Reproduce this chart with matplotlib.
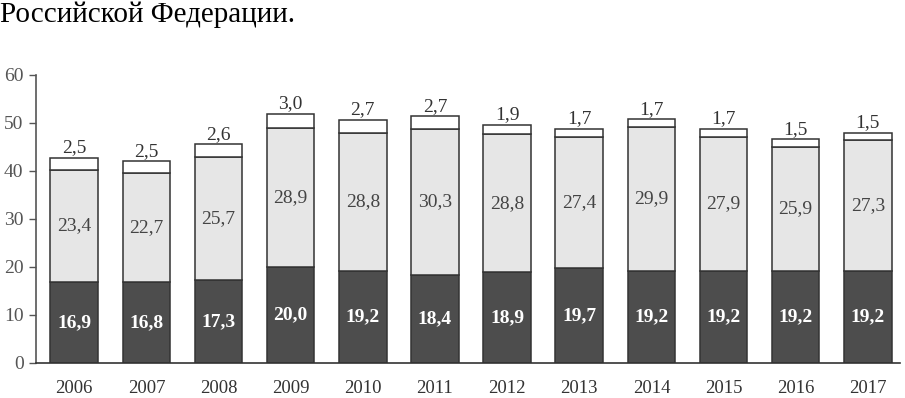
import matplotlib
matplotlib.use("Agg")
import matplotlib.pyplot as plt
import numpy as np

years = ["2006", "2007", "2008", "2009", "2010", "2011", "2012", "2013", "2014", "2015", "2016", "2017"]
bottom_vals = [16.9, 16.8, 17.3, 20.0, 19.2, 18.4, 18.9, 19.7, 19.2, 19.2, 19.2, 19.2]
middle_vals = [23.4, 22.7, 25.7, 28.9, 28.8, 30.3, 28.8, 27.4, 29.9, 27.9, 25.9, 27.3]
top_vals = [2.5, 2.5, 2.6, 3.0, 2.7, 2.7, 1.9, 1.7, 1.7, 1.7, 1.5, 1.5]
yticks = [0, 10, 20, 30, 40, 50, 60]
header = "Российской Федерации."

plt.rcParams['font.family'] = ['Liberation Serif', 'DejaVu Serif']

fig = plt.figure(figsize=(9.05, 3.98), dpi=100)
ax = fig.add_axes([0.0398, 0.088, 0.955, 0.7236])

x = np.arange(len(years))
b = np.array(bottom_vals)
m = np.array(middle_vals)
t = np.array(top_vals)
w = 0.66
edge = "#333333"
ax.bar(x, b, w, color="#4d4d4d", edgecolor=edge, linewidth=1.1, zorder=2)
ax.bar(x, m, w, bottom=b, color="#e6e6e6", edgecolor=edge, linewidth=1.1, zorder=2)
ax.bar(x, t, w, bottom=b + m, color="white", edgecolor=edge, linewidth=1.1, zorder=2)

fmt = lambda v: f"{v:.1f}".replace(".", ",")
for i in range(len(years)):
    ax.text(x[i], b[i] / 2, fmt(b[i]), ha="center", va="center", color="white",
            fontsize=14, fontweight="bold")
    ax.text(x[i], b[i] + m[i] / 2, fmt(m[i]), ha="center", va="center", color="#444444",
            fontsize=14)
    ax.text(x[i], b[i] + m[i] + t[i] + 0.3, fmt(t[i]), ha="center", va="bottom", color="#333333",
            fontsize=14)

ax.set_xlim(-0.53, 11.45)
ax.set_ylim(0, 60)
ax.set_yticks(yticks)
ax.set_yticklabels([str(v) for v in yticks], fontsize=14, color="#555555")
ax.set_xticks(x)
ax.set_xticklabels(years, fontsize=13.5, color="#333333")
ax.tick_params(axis="x", length=0, pad=12)
ax.tick_params(axis="y", length=5, width=1, color="#555555", pad=4, direction="out")
for s in ["top", "right"]:
    ax.spines[s].set_visible(False)
ax.spines["left"].set_color("#555555")
ax.spines["bottom"].set_color("#333333")
ax.spines["left"].set_linewidth(1.2)
ax.spines["bottom"].set_linewidth(1.2)

fig.text(0.0, 0.997, header, ha="left", va="top", fontsize=21, color="black")

fig.savefig("out.png", dpi=100)
